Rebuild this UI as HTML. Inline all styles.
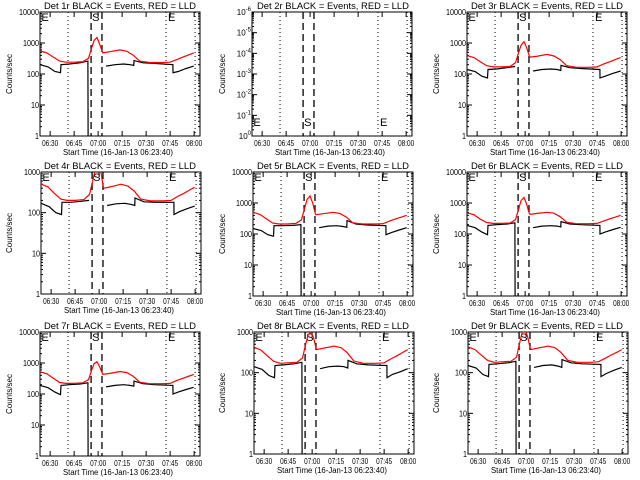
<!DOCTYPE html>
<html><head><meta charset="utf-8"><style>
html,body{margin:0;padding:0;background:#fff;}
svg{display:block;font-family:"Liberation Sans",sans-serif;}
</style></head><body>
<svg id="chart" width="640" height="480" viewBox="0 0 640 480" xmlns="http://www.w3.org/2000/svg">
<rect width="640" height="480" fill="#fff"/>
</svg>
<script>
// time in minutes after 06:00
const blackTimes = [23.7,28.7,33,36.5,36.8,42,48.7,53.6,53.7,60,65,70.5,76,80,82.3,82.4,88,95,106.7,106.8,110,115,119.7];
const redTimes = [23.7,28,32,36,40,45,50.5,54,56,57.5,59.3,61,62.5,63,67,73.7,78,82,86,92,100,105,109,113,117,119.7];
const tickTimes = [30,45,60,75,90,105,120];
const tickLabels = ["06:30","06:45","07:00","07:15","07:30","07:45","08:00"];
const dottedTimes = [41.2,102.4,120.6];
const dashedTimes = [55.6,62.4];
const detNames = ["1r","2r","3r","4r","5r","6r","7r","8r","9r"];
const yDecades = [4,6,4,3,4,4,4,3,3];
const black1 = [200,170,120,110,200,210,230,260,1,null,180,200,210,200,190,270,230,220,200,110,120,150,180];
const black2 = null;
const black3 = [140,120,85,75,140,145,160,175,175,null,125,140,145,140,130,190,160,150,140,75,85,105,125];
const black4 = [170,140,100,90,180,180,190,200,200,null,150,165,170,160,150,230,185,180,180,90,105,125,145];
const black5 = [150,130,95,85,185,185,190,200,1,null,160,180,185,175,165,270,210,195,185,95,110,135,160];
const black6 = [190,160,115,95,190,200,210,230,1,null,160,180,185,180,170,250,210,200,190,100,115,140,165];
const black7 = [190,160,115,95,190,200,210,230,1,null,170,190,200,190,180,260,215,200,190,100,115,140,165];
const black8 = [140,120,85,75,150,155,165,180,1,null,125,140,145,140,130,200,165,155,150,75,90,105,125];
const black9 = [150,130,90,80,160,165,175,190,1,null,135,150,155,145,135,210,175,165,160,80,95,115,135];
const red1 = [550,480,350,260,240,240,250,320,700,1200,1500,900,550,480,520,600,540,400,260,235,235,240,290,350,420,480];
const red2 = null;
const red3 = [390,340,250,185,170,170,175,230,500,850,1100,700,400,350,370,430,380,290,185,165,165,170,210,250,300,340];
const red4 = [500,430,300,215,200,200,210,280,600,1100,1300,1100,450,400,430,500,450,340,215,195,195,200,250,300,370,420];
const red5 = [500,430,310,225,210,210,220,290,700,1300,1700,1000,480,420,450,500,460,350,230,210,210,215,260,310,360,400];
const red6 = [480,420,300,235,220,220,225,290,650,1200,1500,900,480,430,460,500,470,360,240,215,215,220,260,310,360,400];
const red7 = [520,450,320,235,220,220,230,290,600,950,1100,750,480,430,460,530,490,370,240,215,215,220,270,320,380,430];
const red8 = [420,360,260,190,170,175,180,230,500,850,1000,700,400,370,400,450,410,310,195,170,170,175,215,260,320,370];
const red9 = [430,370,270,200,180,185,190,240,550,950,1150,750,410,370,400,450,410,310,200,180,180,185,220,270,320,370];
const blackSeries = [black1,black2,black3,black4,black5,black6,black7,black8,black9];
const redSeries = [red1,red2,red3,red4,red5,red6,red7,red8,red9];

const NS = "http://www.w3.org/2000/svg";
const svg = document.getElementById("chart");
function mk(tag, attrs, parent) {
  const e = document.createElementNS(NS, tag);
  for (const k in attrs) e.setAttribute(k, attrs[k]);
  (parent || svg).appendChild(e);
  return e;
}
const T0 = 23.667, TSPAN = 100;

for (let p = 0; p < 9; p++) {
  const ox = [0,213,427][p % 3], oy = [0,160,320][Math.floor(p / 3)];
  const dec = yDecades[p];
  const left = ox + (dec === 6 ? 39 : (dec === 3 ? 41 : 40)), right = left + 160;
  const top = oy + 12, bottom = oy + (dec === 3 ? 134 : 136);
  const xS = t => left + (t - T0) / TSPAN * (right - left);
  const yS = v => bottom - Math.log10(v) / dec * (bottom - top);
  const g = mk("g", {});
  
  

  const cid = "clip" + p;
  const cp = mk("clipPath", {id: cid}, g);
  mk("rect", {x: left, y: top, width: right - left, height: bottom - top}, cp);

  const title = mk("text", {x: ox + 44, y: oy + 9, "font-size": 9, textLength: 152, lengthAdjust: "spacingAndGlyphs"}, g);
  title.textContent = "Det " + detNames[p] + " BLACK = Events, RED = LLD";
  
  

  const frame = mk("rect", {x: left, y: top, width: right - left, height: bottom - top, fill: "none", stroke: "#000", "stroke-width": 1}, g);
  
  

  for (let d = 0; d <= dec; d++) {
    const y = yS(Math.pow(10, d));
    mk("line", {x1: left, x2: left + 5, y1: y, y2: y, stroke: "#000"}, g);
    mk("line", {x1: right - 5, x2: right, y1: y, y2: y, stroke: "#000"}, g);
    if (d < dec) {
      for (let m = 2; m < 10; m++) {
        const ym = yS(m * Math.pow(10, d));
        mk("line", {x1: left, x2: left + 2, y1: ym, y2: ym, stroke: "#000"}, g);
        mk("line", {x1: right - 2, x2: right, y1: ym, y2: ym, stroke: "#000"}, g);
      }
    }
    const lab = mk("text", {x: left - 1, y: y + 3, "font-size": 8, "text-anchor": "end"}, g);
    if (dec === 6) {
      lab.textContent = "10";
      const sup = mk("tspan", {dy: -4, "font-size": 6}, lab);
      sup.textContent = d === 0 ? "0" : "-" + d;
    } else {
      lab.textContent = String(Math.pow(10, d));
      lab.setAttribute("textLength", String(Math.pow(10, d)).length * 4);
      lab.setAttribute("lengthAdjust", "spacingAndGlyphs");
    }
    
    
  }
  const cy = (top + bottom) / 2;
  const yt = mk("text", {x: ox + 12, y: cy, "font-size": 8, "text-anchor": "middle", transform: "rotate(-90 " + (ox + 12) + " " + cy + ")"}, g);
  yt.textContent = "Counts/sec";
  
  

  tickTimes.forEach((t, i) => {
    const x = xS(t);
    mk("line", {x1: x, x2: x, y1: bottom, y2: bottom - 5, stroke: "#000"}, g);
    mk("line", {x1: x, x2: x, y1: top, y2: top + 5, stroke: "#000"}, g);
    const lab = mk("text", {x: x - 8, y: bottom + 10, "font-size": 8, textLength: 16, lengthAdjust: "spacingAndGlyphs"}, g);
    lab.textContent = tickLabels[i];
    
    
  });
  const xt = mk("text", {x: left + 23, y: bottom + 19, "font-size": 8, textLength: 110, lengthAdjust: "spacingAndGlyphs"}, g);
  xt.textContent = "Start Time (16-Jan-13 06:23:40)";
  
  

  const inner = mk("g", {"clip-path": "url(#" + cid + ")"}, g);
  dottedTimes.forEach(t => {
    const l = mk("line", {x1: xS(t), x2: xS(t), y1: top, y2: bottom, stroke: "#000", "stroke-dasharray": "1,3"}, inner);
    
    
  });
  dashedTimes.forEach(t => {
    const l = mk("line", {x1: xS(t), x2: xS(t), y1: top, y2: bottom, stroke: "#000", "stroke-width": 1.3, "stroke-dasharray": "7,4"}, inner);
    
    
  });

  const ly = dec === 6 ? bottom - 10 : top + 9;
  [[xS(24.5), "E"], [xS(dashedTimes[0]) + 1, "S"], [xS(dottedTimes[1]) + 2, "E"]].forEach(([x, s]) => {
    const t = mk("text", {x: x, y: ly, "font-size": 11}, inner);
    t.textContent = s;
    
    
  });

  function pathFor(times, vals) {
    let d = "", pen = false;
    for (let i = 0; i < times.length; i++) {
      const v = vals[i];
      if (v === null) { pen = false; continue; }
      d += (pen ? "L" : "M") + xS(times[i]).toFixed(1) + " " + yS(v).toFixed(1);
      pen = true;
    }
    return d;
  }
  if (blackSeries[p]) {
    const bl = mk("path", {d: pathFor(blackTimes, blackSeries[p]), fill: "none", stroke: "#000", "stroke-width": 1.2}, inner);
    
    
  }
  if (redSeries[p]) {
    const rl = mk("path", {d: pathFor(redTimes, redSeries[p]), fill: "none", stroke: "#f00", "stroke-width": 1.2}, inner);
    
    
  }
}
</script>
</body></html>
